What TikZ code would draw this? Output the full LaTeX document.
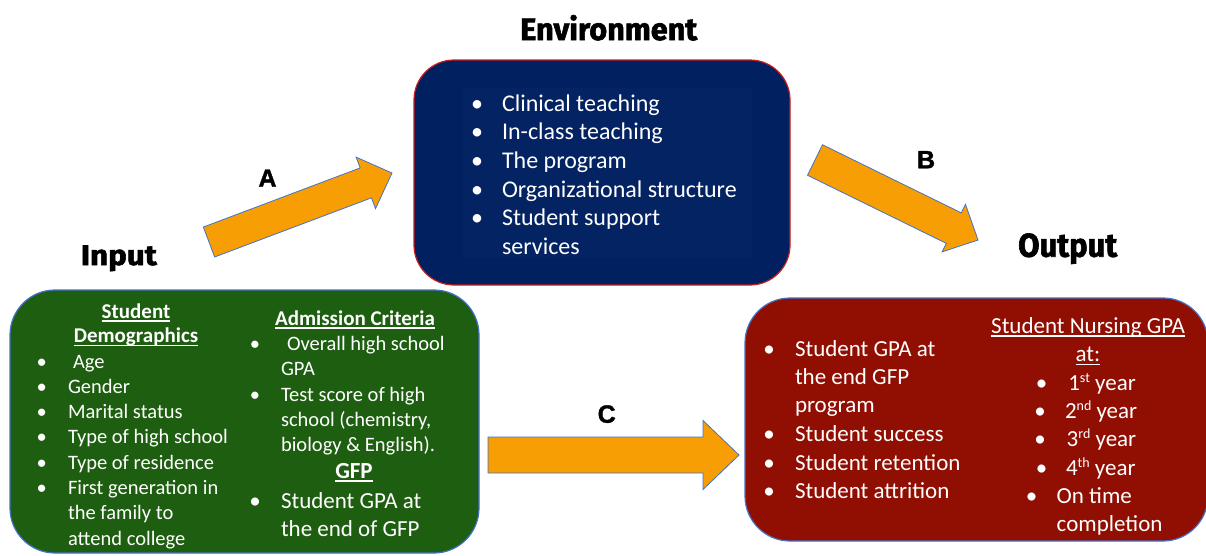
\documentclass[tikz,border=0pt]{standalone}
\usepackage{graphicx}
\usepackage{fontspec}
\setmainfont{Carlito}
\newfontfamily\titlefont[FakeBold=2]{Fira Sans}
\newfontfamily\labfont[FakeBold=1.5]{Liberation Sans}
\definecolor{envblue}{RGB}{0,32,96}
\definecolor{envinner}{RGB}{4,35,98}
\definecolor{inpgreen}{RGB}{30,94,16}
\definecolor{outred}{RGB}{144,14,2}
\definecolor{arrorange}{RGB}{247,158,5}
\definecolor{edgeblue}{RGB}{68,114,196}
\definecolor{edgered}{RGB}{200,30,30}
\newcommand\ulx[1]{\setbox0\hbox{#1}\rlap{\rule[-3.6pt]{\wd0}{1.5pt}}\box0}
\newcommand\sups[1]{\raisebox{8pt}{\fontsize{14}{14}\selectfont #1}}
\newcommand\blockarrow[8]{%
  \begin{scope}[shift={(#2,#3)}, rotate=#4]
    \coordinate (#1-tail) at (0,0);
    \coordinate (#1-tip) at (#5,0);
    \draw[blockarr] (0,-#6) -- ({#5-#8},-#6) -- ({#5-#8},-#7) -- (#1-tip)
      -- ({#5-#8},#7) -- ({#5-#8},#6) -- (0,#6) -- cycle;
  \end{scope}}
\begin{document}
\begin{tikzpicture}[x=1pt,y=-1pt,
  blockarr/.style={fill=arrorange, draw=edgeblue, line width=0.8pt, line join=miter},
  wtxt/.style={text=white, anchor=base west, inner sep=0pt, outer sep=0pt},
  bul/.style={text=white, anchor=base, inner sep=0pt, outer sep=0pt},
  envf/.style={font=\fontsize{24}{28}\selectfont},
  inf/.style={font=\fontsize{20.5}{25}\selectfont},
  bigf/.style={font=\fontsize{23}{28}\selectfont},
  headf/.style={text=white, anchor=base, inner sep=0pt, font=\fontsize{21}{25}\selectfont\bfseries},
  lbl/.style={anchor=base, inner sep=0pt, font={\fontsize{25}{25}\labfont\bfseries}},
  ttl/.style={anchor=base west, inner sep=0pt}
]
\useasboundingbox (0,0) rectangle (1206,555);

% ---------- boxes ----------
\draw[fill=envblue, draw=edgered, line width=1.2pt, rounded corners=40pt] (414,60) rectangle (790,285);
\fill[envinner] (463,88) rectangle (752,258);
\draw[fill=inpgreen, draw=edgeblue, line width=1.2pt, rounded corners=45pt] (10,290) rectangle (479,553);
\draw[fill=outred, draw=edgeblue, line width=1.2pt, rounded corners=45pt] (745,298) rectangle (1208,541);

% ---------- titles ----------
\node[ttl] (envt) at (520,40) {\resizebox{177pt}{25pt}{\titlefont\bfseries Environment}};
\node[ttl] (inpt) at (80.7,265) {\resizebox{76pt}{19.5pt}{\titlefont\bfseries Input}};
\node[ttl] (outt) at (1018,256.7) {\resizebox{99pt}{23.4pt}{\titlefont\bfseries Output}};

% ---------- environment box ----------
\node[bul,envf] (eb1) at (477,111) {•};
\node[wtxt,envf] (e1) at (502,111) {Clinical teaching};
\node[bul,envf] (eb2) at (477,139.7) {•};
\node[wtxt,envf] (e2) at (502,139.7) {In-class teaching};
\node[bul,envf] (eb3) at (477,168.4) {•};
\node[wtxt,envf] (e3) at (502,168.4) {The program};
\node[bul,envf] (eb4) at (477,197.1) {•};
\node[wtxt,envf] (e4) at (502,197.1) {Organizational structure};
\node[bul,envf] (eb5) at (477,225.8) {•};
\node[wtxt,envf] (e5) at (502,225.8) {Student support};
\node[wtxt,envf] (e6) at (502,254.5) {services};

% ---------- input box, left column ----------
\node[headf] (h1) at (136,318.3) {\ulx{Student}};
\node[headf] (h2) at (136,342.7) {\ulx{Demographics}};
\node[bul,inf] (ib1) at (41.7,368) {•};
\node[wtxt,inf] (i1) at (73,368) {Age};
\node[bul,inf] (ib2) at (41.7,393.3) {•};
\node[wtxt,inf] (i2) at (68,393.3) {Gender};
\node[bul,inf] (ib3) at (41.7,418.6) {•};
\node[wtxt,inf] (i3) at (68,418.6) {Marital status};
\node[bul,inf] (ib4) at (41.7,443.9) {•};
\begin{scope}
  \clip (60,420) rectangle (230,455);
  \node[wtxt,inf] (i4) at (68,443.9) {Type of high school};
\end{scope}
\node[bul,inf] (ib5) at (41.7,469.2) {•};
\node[wtxt,inf] (i5) at (68,469.2) {Type of residence};
\node[bul,inf] (ib6) at (41.7,494.5) {•};
\node[wtxt,inf] (i6) at (68,494.5) {First generation in};
\node[wtxt,inf] (i7) at (68,519.8) {the family to};
\node[wtxt,inf] (i8) at (68,545.1) {attend college};

% ---------- input box, right column ----------
\node[headf] (h3) at (355,325) {\ulx{Admission Criteria}};
\node[bul,inf] (rb1) at (255,350) {•};
\node[wtxt,inf] (r1) at (287,350) {Overall high school};
\node[wtxt,inf] (r2) at (281,375.7) {GPA};
\node[bul,inf] (rb2) at (255,401) {•};
\node[wtxt,inf] (r3) at (281,401) {Test score of high};
\node[wtxt,inf] (r4) at (281,426.7) {school (chemistry,};
\node[wtxt,inf] (r5) at (281,451.7) {biology \& English).};
\node[headf,font=\fontsize{23}{28}\selectfont\bfseries] (h4) at (354,478.3) {\ulx{GFP}};
\node[bul,bigf] (rb3) at (255,508.3) {•};
\node[wtxt,bigf] (r6) at (281,508.3) {Student GPA at};
\node[wtxt,bigf] (r7) at (281,536.7) {the end of GFP};

% ---------- output box, left column ----------
\node[bul,bigf] (ob1) at (769,356) {•};
\node[wtxt,bigf] (o1) at (795,356) {Student GPA at};
\node[wtxt,bigf] (o2) at (795,384.3) {the end GFP};
\node[wtxt,bigf] (o3) at (795,412.7) {program};
\node[bul,bigf] (ob2) at (769,441.7) {•};
\node[wtxt,bigf] (o4) at (795,441.7) {Student success};
\node[bul,bigf] (ob3) at (769,470) {•};
\node[wtxt,bigf] (o5) at (795,470) {Student retention};
\node[bul,bigf] (ob4) at (769,498.3) {•};
\node[wtxt,bigf] (o6) at (795,498.3) {Student attrition};

% ---------- output box, right column ----------
\node[bul,bigf] (h5) at (1088,333.3) {\ulx{Student Nursing GPA}};
\node[bul,bigf] (h6) at (1088,361.7) {\ulx{at:}};
\node[bul,bigf] (pb1) at (1041.7,390) {•};
\node[wtxt,bigf] (p1) at (1068.3,390) {1\sups{st} year};
\node[bul,bigf] (pb2) at (1040,418.3) {•};
\node[wtxt,bigf] (p2) at (1065,418.3) {2\sups{nd} year};
\node[bul,bigf] (pb3) at (1040,446.7) {•};
\node[wtxt,bigf] (p3) at (1066.7,446.7) {3\sups{rd} year};
\node[bul,bigf] (pb4) at (1041.7,475) {•};
\node[wtxt,bigf] (p4) at (1066,475) {4\sups{th} year};
\node[bul,bigf] (pb5) at (1031.7,503.3) {•};
\node[wtxt,bigf] (p5) at (1056.7,503.3) {On time};
\node[wtxt,bigf] (p6) at (1056.7,531.7) {completion};

% ---------- block arrows ----------
\blockarrow{arrA}{209}{242}{20.66}{195.6}{16}{27.5}{28}
\blockarrow{arrB}{815}{160}{-26.14}{181.6}{17}{26.5}{27}
\blockarrow{arrC}{488}{455}{0}{251}{18}{34.5}{36}

\node[lbl] (la) at (267.5,186.7) {A};
\node[lbl] (lb) at (926,168.3) {B};
\node[lbl] (lc) at (606.7,422.7) {C};
\end{tikzpicture}
\end{document}
